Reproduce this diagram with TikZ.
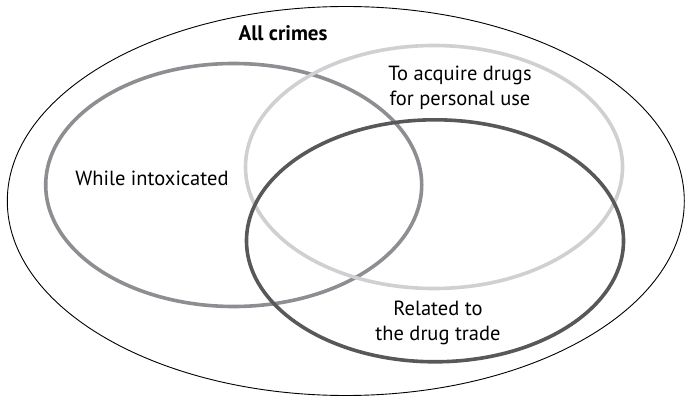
\documentclass[tikz,border=0pt]{standalone}
\usepackage{fontspec}
\setmainfont{PT Sans}
\usepackage{tikz}
\usetikzlibrary{positioning}

\definecolor{ringlight}{RGB}{208,208,210}
\definecolor{ringmid}{RGB}{142,142,146}
\definecolor{ringdark}{RGB}{88,88,91}

\tikzset{
  ring/.style={line width=3.6pt},
  label/.style={font=\fontsize{20.5}{25.5}\selectfont, align=center, inner sep=0pt}
}

\begin{document}
\begin{tikzpicture}[x=1pt, y=-1pt]
   \useasboundingbox (0,0) rectangle (685,398);
   \draw[line width=0.9pt] (345.8,201) ellipse [x radius=338.5, y radius=194.5];
   \draw[ring, ringmid] (233.7,185) ellipse [x radius=188, y radius=121.5];
   \draw[ring, ringlight] (434,167) ellipse [x radius=188.5, y radius=121.5];
   \draw[ring, ringdark] (435,240.8) ellipse [x radius=188.5, y radius=121];

   \node[label, font=\fontsize{21}{25}\selectfont\bfseries] (all) at (283,33) {All crimes};
   \node[label] (intox) at (152,178) {While intoxicated};
   \node[label] (acquire) at (460,88) {To acquire drugs\\for personal use};
   \node[label] (trade) at (438,323) {Related to\\the drug trade};
\end{tikzpicture}
\end{document}
